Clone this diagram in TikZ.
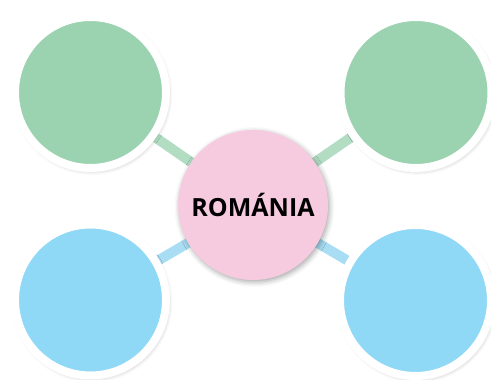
\documentclass[tikz,border=0pt]{standalone}
\usepackage{fontspec}
\setsansfont{Open Sans}
\usetikzlibrary{backgrounds,shadows.blur}
\definecolor{leafgreen}{HTML}{9BD2B0}
\definecolor{skyblue}{HTML}{8FD8F6}
\definecolor{rosepink}{HTML}{F6CADF}
\definecolor{greenlink}{HTML}{B2DDC3}
\definecolor{bluelink}{HTML}{A9DDF4}
\tikzset{
	softshadow/.style={blur shadow={shadow xshift=1.5pt, shadow yshift=-2pt, shadow blur radius=5pt, shadow opacity=35}},
	bubble/.style={circle, inner sep=0pt, outer sep=0pt, minimum size=151pt, draw=white, line width=8pt, softshadow},
	hub/.style={circle, inner sep=0pt, outer sep=0pt, minimum size=150pt, fill=rosepink, softshadow, font=\sffamily\bfseries\fontsize{25}{30}\selectfont},
	link/.style={line width=10pt}
}

\begin{document}
\begin{tikzpicture}[x=1pt,y=1pt]
		%%%%% START %%%%%
		\useasboundingbox (0,0) rectangle (491,380);
		
		\node[bubble, fill=leafgreen] (topleft) at (90.5, 287.5) {};
		\node[bubble, fill=leafgreen] (topright) at (416, 287.5) {};
		\node[bubble, fill=skyblue] (botleft) at (90.5, 80) {};
		\node[bubble, fill=skyblue] (botright) at (415.5, 79.5) {};
		
		\node[hub] (romania) at (253, 175) {ROMÁNIA};
		
		\begin{scope}[on background layer]
			\draw[link, greenlink] (romania) -- (topleft);
			\draw[link, greenlink] (romania) -- (topright);
			\draw[link, bluelink] (romania) -- (botleft);
			\draw[link, bluelink] (romania) -- (botright);
		\end{scope}
		%%%%% END %%%%%
	\end{tikzpicture}
\end{document}
